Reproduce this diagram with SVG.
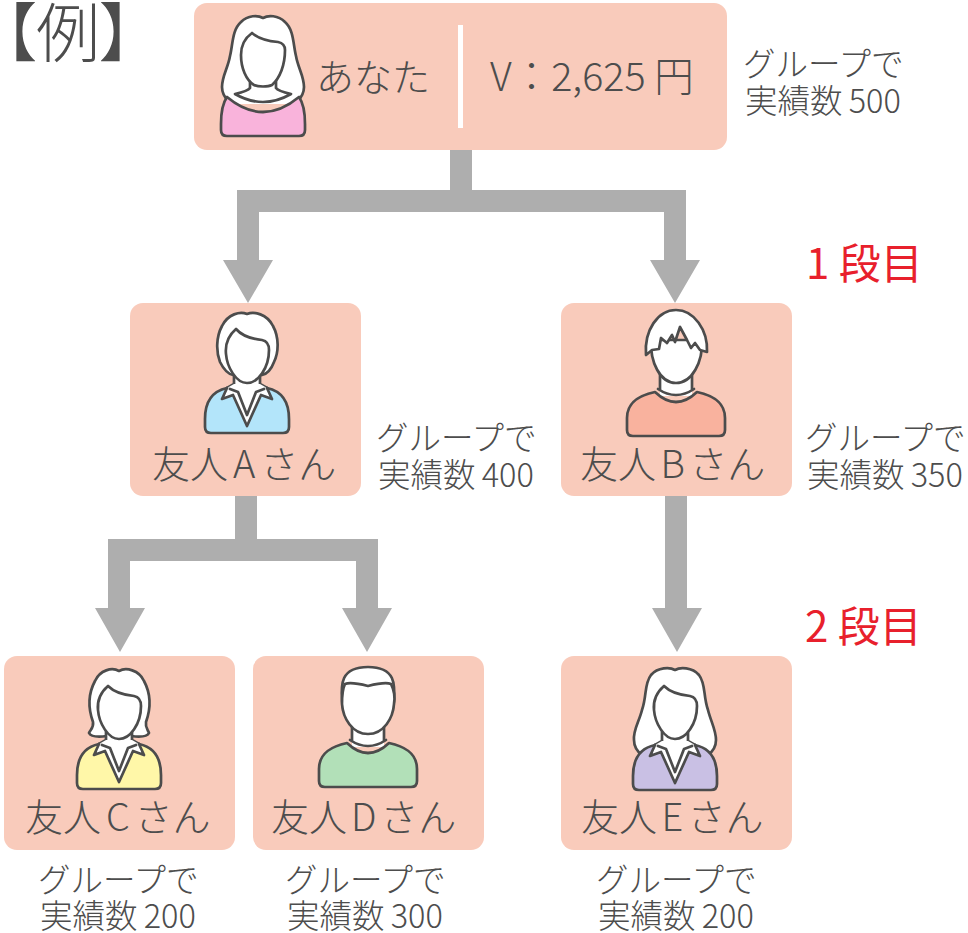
<svg xmlns="http://www.w3.org/2000/svg" width="968" height="933" viewBox="0 0 968 933">
<style>
text{font-family:"Noto Sans CJK JP","Noto Sans",sans-serif;fill:#4d4d4d;font-weight:300}
.card{fill:#f9cbbb}
.conn{fill:#aeaeae}
.l{stroke:#4c4c4c;stroke-width:2.7;stroke-linejoin:round;stroke-linecap:round;fill:#fff}
.n{fill:none}
.name{font-size:38px;word-spacing:-3.5px}
.top{font-size:39.5px}
.note{font-size:32.5px;word-spacing:-1px}
.step{font-size:42px;fill:#e8202c;font-weight:400}
.ttl{font-size:64px;font-feature-settings:"palt"}
</style>
<defs>
<g id="shirt">
<path d="M-13 -60H13V-38H-13Z" fill="#fff"/>
<path class="l n" d="M-13 -60V-49L-20 -45M13 -60V-49L20 -45"/>
<path class="l" style="fill:inherit" d="M-20 -45C-34 -42 -42 -32 -42 -14V-6Q-42 0 -36 0H36Q42 0 42 -6V-14C42 -32 34 -42 20 -45L13 -42H-13Z"/>
<path d="M-20 -45L-13 -49H13L20 -45L25 -34L14 -38L0 -7L-14 -38L-25 -34Z" fill="#fff"/>
<path class="l n" d="M-20 -45L-25 -34L-14 -38L0 -7L14 -38L25 -34L20 -45"/>
<path class="l n" d="M-17 -44L-9 -41L0 -18L9 -41L17 -44"/>
</g>
<g id="tee">
<path d="M-16 -62H16V-40H-16Z" fill="#fff"/>
<path class="l n" d="M-16 -62V-47M16 -62V-47"/>
<path class="l n" d="M-18 -47Q0 -35 18 -47"/>
<path class="l" style="fill:inherit" d="M-21 -44C-35 -41 -49 -35 -49 -18V-6Q-49 0 -43 0H43Q49 0 49 -6V-18C49 -35 35 -41 21 -44Q0 -24 -21 -44Z"/>
</g>
</defs>
<g id="connectors">
<path class="conn" d="M450 150H472V190H686V260H700L675 303L650 260H664V212H259V260H273L248 303L223 260H237V190H450Z"/>
<path class="conn" d="M235 496H257V539H378V608H392L367 652L342 608H356V561H130V608H145L120 652L95 608H108V539H235Z"/>
<path class="conn" d="M665 496H687V608H702L677 652L652 608H665Z"/>
</g>
<g id="title"><text class="ttl" x="4" y="56">【例】</text></g>
<g id="node-you">
<rect class="card" x="194" y="3" width="533" height="147" rx="13"/>
<path class="l" d="M263 18C258 15 248 15 241 22C232 30 233 44 230 56C228 68 222 76 222 87C222 94 225 98 229 102L297 102C301 98 304 94 304 87C304 76 298 68 296 56C293 44 294 30 285 22C278 15 268 15 263 18Z"/>
<path d="M250 80H276V92L294 95V104H232V95L250 92Z" fill="#fff"/>
<path class="l n" d="M250 80V88Q248 91 235 94Q263 110 291 94Q278 91 276 88V80"/>
<path class="l" style="fill:#f9b3db" d="M227 97C222 104 221 112 221 124V130Q221 136 227 136H299Q305 136 305 130V124C305 112 304 104 299 97Q263 127 227 97Z"/>
<path class="l" d="M252 33C245 38 241 45 241 55C241 68 246 80 254 85C258 87 268 87 272 85C280 78 285 65 285 50C285 46 283 43 278 42C268 41 259 39 252 33Z"/>
<rect x="458" y="25" width="5" height="103" fill="#fff"/>
<text x="316" y="91" font-size="38">あなた</text>
<text class="top" x="490" y="91">V：2,625 円</text>
</g>
<text class="note" x="743" y="76">グループで</text>
<text class="note" x="745" y="113">実績数 500</text>
<text class="step" x="806" y="279">1 段目</text>
<g id="node-a">
<rect class="card" x="130" y="303" width="231" height="193" rx="13"/>
<path class="l" d="M247 314C240 311 228 314 222 326C216 337 216 352 220 362C224 370 228 374 233 375H262C267 374 271 370 274 362C279 352 279 337 273 326C267 314 254 311 247 314Z"/>
<use href="#shirt" x="247" y="433" style="fill:#b3e5fa"/>
<path class="l" d="M236 329C229 335 225 344 226 354C227 367 236 383 247 383C258 383 269 368 269 350C269 344 267 341 262 340C252 339 243 337 236 329Z"/>
<text class="name" x="152" y="478">友人 A さん</text>
</g>
<text class="note" x="376" y="450">グループで</text>
<text class="note" x="378" y="487">実績数 400</text>
<g id="node-b">
<rect class="card" x="561" y="303" width="231" height="193" rx="13"/>
<use href="#tee" x="676" y="436" style="fill:#f9b29e"/>
<path class="l" d="M651 340C650 362 660 383 676 383C692 383 703 362 702 340Z"/>
<path class="l" d="M646 355C644 330 658 310 676 310C694 310 708 330 707 352L700 350L695 343L691 348L687 340L680 327L675 342L672 335L667 343L661 338L659 349L652 350Z"/>
<text class="name" x="580" y="478" style="word-spacing:-4px">友人 B さん</text>
</g>
<text class="note" x="805" y="450">グループで</text>
<text class="note" x="807" y="487">実績数 350</text>
<text class="step" x="805" y="642">2 段目</text>
<g id="node-c">
<rect class="card" x="4" y="656" width="231" height="194" rx="13"/>
<path class="l" d="M119 671C112 667 100 670 95 681C88 694 88 708 93 722C94 728 90 730 89 733C91 737 100 737 107 736H131C138 737 147 737 149 733C148 730 145 728 146 722C151 708 151 694 144 681C139 670 126 667 119 671Z"/>
<use href="#shirt" x="119" y="789" style="fill:#fff7a8"/>
<path class="l" d="M108 686C101 692 97 700 98 710C99 723 108 739 119 739C130 739 141 724 141 706C141 700 139 697 134 696C124 695 115 693 108 686Z"/>
<text class="name" x="25" y="831">友人 C さん</text>
</g>
<g id="node-d">
<rect class="card" x="253" y="656" width="231" height="194" rx="13"/>
<use href="#tee" x="368" y="787" style="fill:#b2e0b8"/>
<path class="l" d="M342 701C341 685 340 667 368 667C396 667 395 685 394 701L393 708H343Z"/>
<path class="l" d="M345 684C350 682 360 684 368 686C376 684 386 682 391 684C394 690 395 698 394 704C393 718 384 734 368 734C352 734 343 718 342 704C342 698 342 690 345 684Z"/>
<text class="name" x="271" y="831" style="word-spacing:-4.5px">友人 D さん</text>
</g>
<g id="node-e">
<rect class="card" x="561" y="656" width="231" height="194" rx="13"/>
<path class="l" d="M675 670C670 667 658 667 651 675C644 684 647 696 642 710C639 722 633 730 634 740C634 748 638 752 642 755H708C712 752 716 748 716 740C716 730 711 722 708 710C703 696 706 684 699 675C692 667 680 667 675 670Z"/>
<use href="#shirt" x="675" y="790" style="fill:#c9c0e4"/>
<path class="l" d="M664 686C657 692 653 700 654 710C655 723 664 739 675 739C686 739 697 724 697 706C697 700 695 697 690 696C680 695 671 693 664 686Z"/>
<text class="name" x="581" y="831" style="word-spacing:-4px">友人 E さん</text>
</g>
<text class="note" x="38" y="892">グループで</text>
<text class="note" x="40" y="928">実績数 200</text>
<text class="note" x="285" y="892">グループで</text>
<text class="note" x="287" y="928">実績数 300</text>
<text class="note" x="596" y="892">グループで</text>
<text class="note" x="598" y="928">実績数 200</text>
</svg>
